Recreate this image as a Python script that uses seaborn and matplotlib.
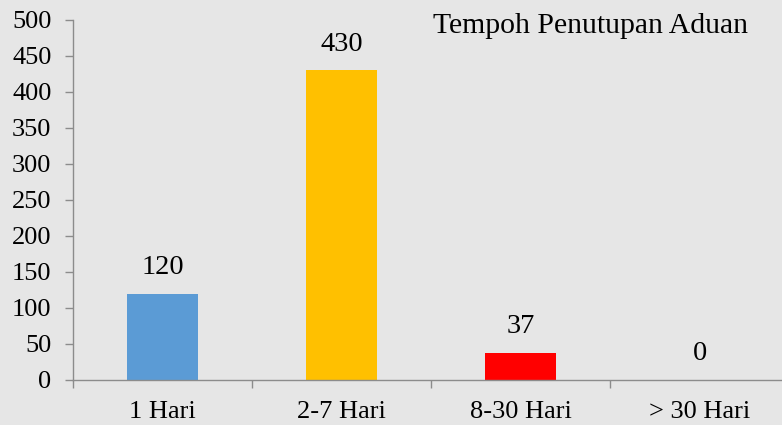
import matplotlib
matplotlib.use("Agg")
import matplotlib.pyplot as plt
import seaborn as sns
import pandas as pd

categories = ["1 Hari", "2-7 Hari", "8-30 Hari", "> 30 Hari"]
values = [120, 430, 37, 0]
colors = ["#5b9bd5", "#ffc000", "#ff0000", "#a5a5a5"]
yticks = list(range(0, 501, 50))
title = "Tempoh Penutupan Aduan"

sns.set_theme(style="white")
plt.rcParams["font.family"] = ["Liberation Serif", "DejaVu Serif"]

bg = "#e6e6e6"
fig = plt.figure(figsize=(7.82, 4.25), dpi=100, facecolor=bg)
ax = fig.add_axes([73/782, 45/425, 716/782, 360/425])
ax.set_facecolor(bg)

df = pd.DataFrame({"cat": categories, "val": values})
sns.barplot(data=df, x="cat", y="val", hue="cat", palette=colors,
            width=0.4, legend=False, ax=ax, saturation=1, linewidth=0)

ax.set_xlim(-0.5, len(categories) - 0.5)
ax.set_ylim(0, 500)
ax.set_yticks(yticks)
ax.set_xlabel("")
ax.set_ylabel("")

spine_c = "#8c8c8c"
for s in ["top", "right"]:
    ax.spines[s].set_visible(False)
for s in ["left", "bottom"]:
    ax.spines[s].set_color(spine_c)
    ax.spines[s].set_linewidth(1.0)

fs_tick = 19
fs_val = 20.5
fs_title = 21.4
ax.tick_params(axis="y", which="major", length=6, width=1, color=spine_c,
               direction="out", left=True, labelsize=fs_tick, pad=9.5, labelcolor="black")
ax.set_xticks(range(len(categories)))
ax.set_xticklabels(categories)
ax.tick_params(axis="x", which="major", length=0, labelsize=fs_tick, pad=15, labelcolor="black")
ax.set_xticks([i - 0.5 for i in range(len(categories) + 1)], minor=True)
ax.tick_params(axis="x", which="minor", length=6, width=1, color=spine_c,
               direction="out", bottom=True)

for i, v in enumerate(values):
    ax.annotate(str(v), xy=(i, v), xytext=(0, 19), textcoords="offset points",
                ha="center", va="center", fontsize=fs_val, color="black")

fig.text(433/782, 1 - 26/425, title, ha="left", va="center", fontsize=fs_title, color="black")

fig.savefig("out.png", dpi=100, facecolor=bg)
